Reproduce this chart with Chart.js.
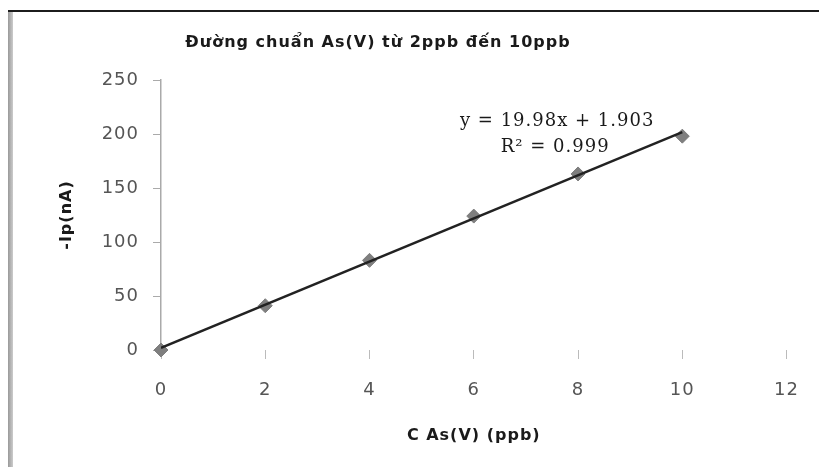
<!DOCTYPE html>
<html>
<head>
<meta charset="utf-8">
<script src="https://cdn.jsdelivr.net/npm/chart.js@4/dist/chart.umd.min.js"></script>
<style>
  html, body { margin: 0; padding: 0; background: #fff; }
  canvas { display: block; }
</style>
</head>
<body>
<canvas id="myChart" width="819" height="467"></canvas>
<script>
// calibration data: As(V) concentration (ppb) vs peak current -Ip (nA)
var concs = [0, 2, 4, 6, 8, 10];
var currents = [0, 41, 83, 124, 163, 198];

// linear fit reported on the chart
var slope = 19.98;
var intercept = 1.903;
var r2 = '0.999';

var xTicks = [0, 2, 4, 6, 8, 10, 12];
var yTicks = [0, 50, 100, 150, 200, 250];

var titleText = 'Đường chuẩn As(V) từ 2ppb đến 10ppb';
var xTitle = 'C As(V) (ppb)';
var yTitle = '-Ip(nA)';

var points = concs.map(function (c, i) { return {x: c, y: currents[i]}; });
var xFirst = concs[0], xLast = concs[concs.length - 1];
var trend = [
  {x: xFirst, y: slope * xFirst + intercept},
  {x: xLast, y: slope * xLast + intercept}
];

var decor = {
  id: 'decor',
  beforeDraw: function (chart) {
    var ctx = chart.ctx;
    ctx.save();
    ctx.fillStyle = '#fff';
    ctx.fillRect(0, 0, chart.width, chart.height);
    // outer frame: dark top rule and shaded left edge
    ctx.fillStyle = '#1c1c1c';
    ctx.fillRect(8, 10, chart.width - 8, 2);
    var g = ctx.createLinearGradient(8, 0, 14, 0);
    g.addColorStop(0, '#999');
    g.addColorStop(1, '#d6d6d6');
    ctx.fillStyle = g;
    ctx.fillRect(8, 12, 5, chart.height - 12);
    ctx.restore();
    // wide lettering for axis text
    ctx.letterSpacing = '1px';
  },
  afterDraw: function (chart) {
    var ctx = chart.ctx;
    var xs = chart.scales.x, ys = chart.scales.y;
    ctx.save();
    ctx.textAlign = 'center';
    ctx.textBaseline = 'middle';
    ctx.fillStyle = '#1a1a1a';
    ctx.letterSpacing = '1px';
    ctx.font = 'bold 16px "DejaVu Sans"';
    ctx.fillText(titleText, 378, 43);

    ctx.letterSpacing = '1px';
    ctx.font = '18px "DejaVu Serif"';
    var ex = xs.getPixelForValue(7.6);
    ctx.fillText('y = ' + slope + 'x + ' + intercept, ex, ys.getPixelForValue(212));
    ctx.fillText('R² = ' + r2, ex - 2, ys.getPixelForValue(188));
    ctx.restore();
  }
};

var ctx = document.getElementById('myChart').getContext('2d');
var chart = new Chart(ctx, {
  type: 'scatter',
  data: {
    datasets: [{
      label: 'trend',
      data: trend,
      showLine: true,
      borderColor: '#222',
      borderWidth: 2.5,
      pointRadius: 0
    }, {
      label: 'As(V)',
      data: points,
      clip: false,
      pointStyle: 'rectRot',
      pointRadius: 7,
      backgroundColor: '#7f7f7f',
      borderColor: '#7f7f7f'
    }]
  },
  options: {
    responsive: false,
    animation: false,
    layout: {padding: {left: 57, right: 31, top: 80, bottom: 22}},
    plugins: {legend: {display: false}, tooltip: {enabled: false}},
    scales: {
      x: {
        type: 'linear',
        min: xTicks[0],
        max: xTicks[xTicks.length - 1],
        afterBuildTicks: function (s) { s.ticks = xTicks.map(function (v) { return {value: v}; }); },
        afterFit: function (s) { s.height = 95; },
        border: {display: false},
        grid: {drawOnChartArea: false, color: '#bbb', tickLength: 9},
        ticks: {color: '#555', padding: 21, font: {family: 'DejaVu Sans', size: 18}},
        title: {display: true, text: xTitle, color: '#1a1a1a', padding: 0,
                font: {family: 'DejaVu Sans', size: 16, weight: 'bold'}}
      },
      y: {
        min: yTicks[0],
        max: yTicks[yTicks.length - 1],
        afterBuildTicks: function (s) { s.ticks = yTicks.map(function (v) { return {value: v}; }); },
        afterFit: function (s) { s.width = 104; },
        border: {display: true, color: '#aaa', width: 1.5},
        grid: {drawOnChartArea: false, color: '#aaa', tickLength: 8},
        ticks: {color: '#555', padding: 14, font: {family: 'DejaVu Sans', size: 18}},
        title: {display: true, text: yTitle, color: '#1a1a1a', padding: 0,
                font: {family: 'DejaVu Sans', size: 16, weight: 'bold'}}
      }
    }
  },
  plugins: [decor]
});
</script>
</body>
</html>
